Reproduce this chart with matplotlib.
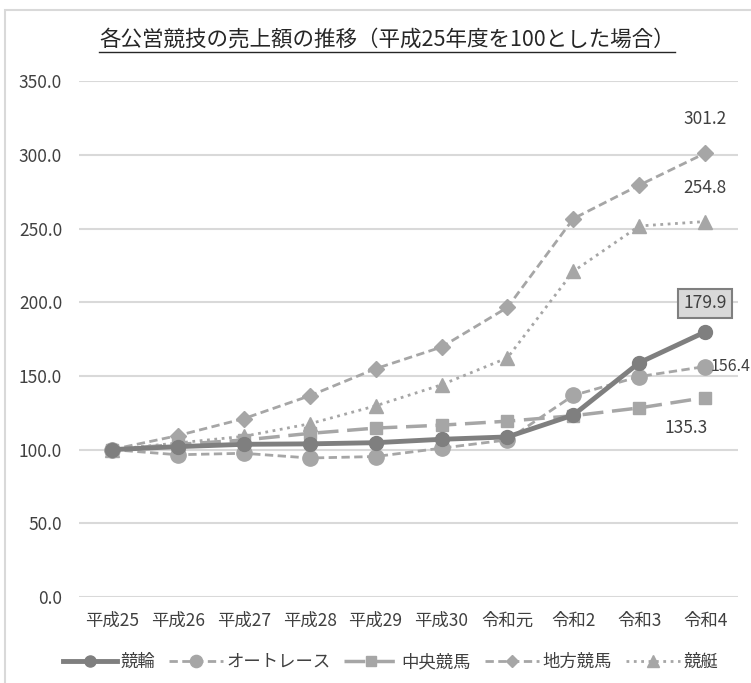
import matplotlib.pyplot as plt
from matplotlib.patches import Rectangle
from matplotlib.lines import Line2D

plt.rcParams['font.family'] = ['Noto Sans CJK JP', 'DejaVu Sans']

years = ['平成25', '平成26', '平成27', '平成28', '平成29', '平成30', '令和元', '令和2', '令和3', '令和4']
keirin = [100, 102.0, 103.6, 103.9, 104.7, 107.0, 108.6, 123.5, 159.0, 179.9]
auto = [100, 96.5, 97.5, 94.3, 95.3, 101.0, 106.6, 136.8, 149.6, 156.4]
chuo = [100, 103.5, 106.5, 111.0, 114.6, 116.6, 119.3, 123.0, 128.3, 135.3]
chiho = [100, 109.5, 121.0, 136.5, 154.9, 169.6, 196.5, 256.8, 279.5, 301.2]
kyotei = [100, 104.5, 109.0, 117.5, 129.7, 144.0, 162.3, 221.0, 251.8, 254.8]

dark = '#7f7f7f'
light = '#a6a6a6'

fig = plt.figure(figsize=(7.51, 6.83), dpi=100)
ax = fig.add_axes([0.105, 0.126, 0.878, 0.755])

# 外枠
fig.add_artist(Rectangle((5 / 751, -0.05), 1.0, 1 - 10 / 683 + 0.05,
                         transform=fig.transFigure, fill=False,
                         edgecolor='#d9d9d9', linewidth=1.5))

x = range(len(years))
ax.plot(x, kyotei, color=light, linestyle=':', linewidth=2, marker='^', markersize=10, label='競艇', zorder=3)
ax.plot(x, chiho, color=light, linestyle=(0, (3, 1.6)), linewidth=2, marker='D', markersize=8, label='地方競馬', zorder=3)
ax.plot(x, chuo, color=light, linestyle=(0, (6, 2.5)), linewidth=2.5, marker='s', markersize=9, label='中央競馬', zorder=3)
ax.plot(x, auto, color=light, linestyle=(0, (3, 1.6)), linewidth=2, marker='o', markersize=11, label='オートレース', zorder=3)
ax.plot(x, keirin, color=dark, linestyle='-', linewidth=3.5, marker='o', markersize=10, label='競輪', zorder=4)

ax.set_xlim(-0.5, len(years) - 0.5)
ax.set_ylim(0, 350)
ax.set_yticks(range(0, 351, 50))
ax.set_yticklabels([f'{v:.1f}' for v in range(0, 351, 50)])
ax.set_xticks(list(x))
ax.set_xticklabels(years)
ax.tick_params(length=0, labelsize=12.5, colors='#404040')
ax.tick_params(axis='x', pad=11)
ax.tick_params(axis='y', pad=12)
ax.grid(axis='y', color='#d9d9d9', linewidth=1.5)
ax.set_axisbelow(True)
for s in ax.spines.values():
    s.set_visible(False)

last = len(years) - 1
ax.annotate(f'{chiho[-1]:.1f}', (last, chiho[-1]), xytext=(0, 18), textcoords='offset points',
            ha='center', va='bottom', fontsize=12.5, color='#404040')
ax.annotate(f'{kyotei[-1]:.1f}', (last, kyotei[-1]), xytext=(0, 18), textcoords='offset points',
            ha='center', va='bottom', fontsize=12.5, color='#404040')
ax.annotate(f'{keirin[-1]:.1f}', (last, keirin[-1]), xytext=(0, 14), textcoords='offset points',
            ha='center', va='bottom', fontsize=12.5, color='#404040',
            bbox=dict(boxstyle='square,pad=0.3', facecolor='#d9d9d9', edgecolor='#7f7f7f', linewidth=1.5))
ax.annotate(f'{auto[-1]:.1f}', (last, auto[-1]), xytext=(3.5, 0), textcoords='offset points',
            ha='left', va='center', fontsize=11.5, color='#404040', annotation_clip=False)
ax.annotate(f'{chuo[-1]:.1f}', (last, chuo[-1]), xytext=(-14, -22), textcoords='offset points',
            ha='center', va='center', fontsize=12.5, color='#404040')

handles, labels = ax.get_legend_handles_labels()
order = [4, 3, 2, 1, 0]
fig.legend([handles[i] for i in order], [labels[i] for i in order],
           loc='center', bbox_to_anchor=(0.52, 1 - 662 / 683), ncol=5, frameon=False,
           fontsize=12.5, handlelength=3.1, columnspacing=0.8, handletextpad=0.2,
           markerscale=0.8, labelcolor='#404040')

title = fig.text(0.515, 1 - 40 / 683, '各公営競技の売上額の推移（平成25年度を100とした場合）',
                 ha='center', va='center', fontsize=15.5, color='#262626')

# タイトルの下線
fig.canvas.draw()
bb = title.get_window_extent().transformed(fig.transFigure.inverted())
fig.add_artist(Line2D([bb.x0, bb.x1], [bb.y0 - 0.002, bb.y0 - 0.002],
                      transform=fig.transFigure, color='#262626', linewidth=1))

fig.savefig('out.png', dpi=100)
